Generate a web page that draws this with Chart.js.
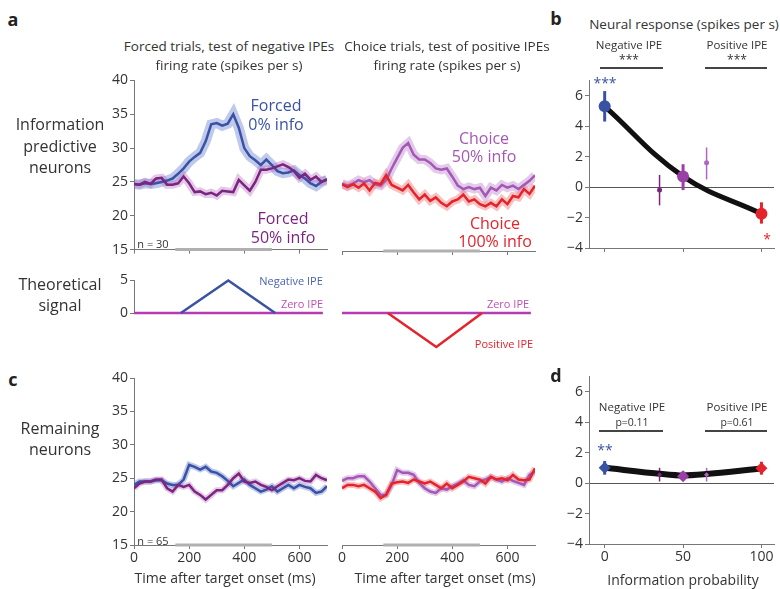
<!DOCTYPE html>
<html>
<head>
<meta charset="utf-8">
<script src="https://cdn.jsdelivr.net/npm/chart.js@4.4.1/dist/chart.umd.min.js"></script>
<style>
  body { margin: 0; background: #fff; }
  #fig { position: relative; width: 780px; height: 589px; overflow: hidden; font-family: "Open Sans", sans-serif; color: #333; }
  #fig canvas { position: absolute; }
  .t { position: absolute; white-space: nowrap; transform: translate(-50%, -50%); line-height: 1; z-index: 2; }
  .rule { position: absolute; height: 0; border-top: 2px solid #444; z-index: 2; }
</style>
</head>
<body>
<div id="fig"></div>
<script>
// ---- data ----
const timeMs = [0,20,40,60,80,100,120,140,160,180,200,220,240,260,280,300,320,340,360,380,400,420,440,460,480,500,520,540,560,580,600,620,640,660,680,700];
const timeTicks = [0, 200, 400, 600];
const rateTicks = [15, 20, 25, 30, 35, 40];
const stimMs = [150, 500];

// a: information predictive neurons (n = 30)
const aForced0  = [24.7,24.6,24.8,24.7,24.8,25.0,25.2,25.5,26.2,27.0,28.0,28.7,29.3,31.0,33.5,33.7,33.3,33.6,35.0,33.0,30.0,28.8,28.2,27.5,28.3,27.5,26.6,26.3,26.4,26.7,26.0,25.5,24.8,24.4,25.0,25.3];
const aForced50 = [24.7,24.6,25.0,24.7,25.5,25.6,24.6,24.6,24.8,25.8,24.8,23.5,23.6,23.2,23.4,23.0,23.7,23.6,23.5,25.3,24.5,23.7,25.0,26.8,26.8,27.0,27.3,27.6,27.2,26.6,25.6,26.2,25.3,25.8,25.0,25.4];
const aChoice50 = [24.8,24.5,24.8,25.3,25.0,25.3,24.7,24.5,25.3,27.0,28.5,30.0,30.7,29.0,28.3,28.3,27.8,27.0,26.8,27.0,25.8,24.5,24.0,24.3,24.0,24.2,23.0,24.2,23.8,24.6,24.2,24.5,24.0,24.6,25.2,26.0];
const aChoice100= [24.7,24.3,24.7,24.2,24.8,23.8,24.9,24.7,26.0,24.6,24.2,23.8,24.6,23.5,22.5,23.2,22.3,22.8,22.0,21.5,22.2,22.5,23.2,22.2,22.5,21.8,21.5,22.0,21.5,22.5,21.8,23.0,22.8,24.0,23.3,24.5];

// c: remaining neurons (n = 65)
const cForced0  = [24.0,24.5,24.5,24.5,24.7,24.7,24.2,24.0,24.0,24.8,27.0,26.7,26.3,26.7,26.0,25.8,25.3,24.6,23.8,24.3,24.8,24.0,23.5,23.0,23.3,23.8,23.0,23.5,24.0,23.5,24.0,23.7,23.5,22.8,23.0,23.8];
const cForced50 = [23.5,24.2,24.5,24.5,24.8,24.8,23.5,23.0,24.0,23.7,24.0,23.0,22.5,21.8,22.5,23.2,23.2,24.0,25.0,25.7,24.5,24.3,24.5,24.0,23.7,23.2,23.8,24.3,24.8,24.7,25.0,24.6,24.5,25.5,25.0,24.7];
const cChoice50 = [24.6,25.0,25.0,25.3,25.3,24.5,23.5,22.5,22.5,24.0,26.2,25.8,25.8,25.5,24.3,23.5,23.0,22.8,23.5,23.3,23.8,24.2,24.7,24.0,23.8,24.5,24.8,25.2,24.8,24.5,25.0,24.6,24.3,24.0,25.5,26.0];
const cChoice100= [23.5,24.0,24.0,23.8,24.0,23.5,23.0,22.0,22.5,24.2,24.4,24.5,24.3,24.8,24.5,24.2,24.5,24.0,23.5,24.2,23.5,24.0,24.5,25.2,25.0,24.8,24.2,25.2,24.8,25.0,24.7,25.5,24.8,24.7,24.8,26.5];

// theoretical signal
const zeroMs = [0, 685];
const zeroIpe = [0, 0];
const negMs = [170, 342, 512];
const negIpe = [0, 5, 0];
const posMs = [166, 342, 508];
const posIpe = [0, -5, 0];

// b / d: neural response vs information probability
const probX = [0, 35, 50, 65, 100];
const probTicks = [0, 50, 100];
const respTicks = [-4, -2, 0, 2, 4, 6];
const respB = [5.3, -0.2, 0.7, 1.6, -1.75];
const errLoB = [4.3, -1.2, -0.2, 0.5, -2.4];
const errHiB = [6.3, 0.8, 1.5, 2.6, -1.0];
const fitX = [0, 50, 100];
const fitB = [5.3, 0.7, -1.75];
const respD = [1.0, 0.55, 0.45, 0.55, 0.97];
const errLoD = [0.55, 0.1, 0.2, 0.1, 0.55];
const errHiD = [1.45, 1.0, 0.75, 1.0, 1.4];
const fitD = [1.0, 0.5, 0.95];

// ---- colours ----
const BLUE = "#3a52a4", BLUE_BAND = "rgba(95,120,205,0.4)";
const PURPLE = "#7b2580", PURPLE_BAND = "rgba(175,100,185,0.35)";
const LILAC = "#a458b4", LILAC_BAND = "rgba(200,150,215,0.5)";
const RED = "#e5232b", RED_BAND = "rgba(240,120,120,0.45)";
const MAGENTA = "#b53cb5";
const AXIS = "#777";
const pointColors = [BLUE, PURPLE, "#9b3fa8", "#b066c0", RED];

Chart.defaults.font.family = '"Open Sans", sans-serif';
Chart.defaults.color = "#333";
Chart.defaults.animation = false;
Chart.defaults.responsive = false;
Chart.defaults.events = [];
Chart.defaults.plugins.legend.display = false;
Chart.defaults.plugins.tooltip.enabled = false;

const fig = document.getElementById("fig");

function makeCanvas(x, y, w, h) {
  const c = document.createElement("canvas");
  c.width = w; c.height = h;
  c.style.left = x + "px"; c.style.top = y + "px";
  fig.appendChild(c);
  return c.getContext("2d");
}

function addText(t, x, y, size, color, weight) {
  const d = document.createElement("div");
  d.className = "t";
  d.textContent = t;
  d.style.left = x + "px";
  d.style.top = y + "px";
  d.style.fontSize = size + "px";
  if (color) d.style.color = color;
  if (weight) d.style.fontWeight = weight;
  fig.appendChild(d);
}

function addRule(x1, x2, y) {
  const d = document.createElement("div");
  d.className = "rule";
  d.style.left = x1 + "px";
  d.style.top = y + "px";
  d.style.width = (x2 - x1) + "px";
  fig.appendChild(d);
}

const errorBars = {
  id: "errorBars",
  beforeDatasetsDraw(chart) {
    const { ctx, scales: { x, y } } = chart;
    chart.data.datasets.forEach(ds => {
      if (!ds.errLo) return;
      ds.data.forEach((p, i) => {
        const px = x.getPixelForValue(p.x);
        ctx.save();
        ctx.strokeStyle = ds.pointBackgroundColor[i];
        ctx.lineWidth = ds.errWidth[i];
        ctx.beginPath();
        ctx.moveTo(px, y.getPixelForValue(ds.errLo[i]));
        ctx.lineTo(px, y.getPixelForValue(ds.errHi[i]));
        ctx.stroke();
        ctx.restore();
      });
    });
  }
};

function pts(xs, ys) {
  return xs.map((v, i) => ({ x: v, y: ys[i] }));
}

function trace(values, color, width, order) {
  return { data: pts(timeMs, values), borderColor: color, borderWidth: width, pointRadius: 0, tension: 0, order };
}

function stimBar() {
  return { data: pts(stimMs, [15, 15]), borderColor: "#b0b0b0", borderWidth: 3, pointRadius: 0, clip: false, order: 0 };
}

function timeX(showLabels, xh) {
  return {
    type: "linear", min: 0, max: 700,
    afterBuildTicks: s => { s.ticks = timeTicks.map(v => ({ value: v })); },
    afterFit: s => { s.height = xh; },
    border: { color: AXIS, width: 1 },
    grid: { drawOnChartArea: false, tickLength: 4, tickColor: AXIS },
    ticks: { display: showLabels, font: { size: 14 }, padding: 1, maxRotation: 0 }
  };
}

function rateY(show) {
  return {
    display: show, min: 15, max: 40,
    afterBuildTicks: s => { s.ticks = rateTicks.map(v => ({ value: v })); },
    afterFit: s => { s.width = show ? 34 : 0; },
    border: { color: AXIS, width: 1 },
    grid: { drawOnChartArea: false, tickLength: 4, tickColor: AXIS },
    ticks: { font: { size: 14 }, padding: 2 }
  };
}

function timePanel(x, y, w, h, pad, showY, showXLabels, xh, datasets) {
  new Chart(makeCanvas(x, y, w, h), {
    type: "line",
    data: { datasets: datasets.concat([stimBar()]) },
    options: {
      layout: { padding: pad },
      scales: { x: timeX(showXLabels, xh), y: rateY(showY) }
    }
  });
}

// panel a
timePanel(100, 70, 235, 190, { top: 9, right: 8, left: 0, bottom: 0 }, true, false, 9, [
  trace(aForced50, PURPLE, 2.5, 1), trace(aForced0, BLUE, 2.5, 2),
  trace(aForced50, PURPLE_BAND, 8, 3), trace(aForced0, BLUE_BAND, 10, 4)
]);
timePanel(335, 70, 210, 190, { top: 9, right: 10, left: 7, bottom: 0 }, false, false, 9, [
  trace(aChoice100, RED, 2.5, 1), trace(aChoice50, LILAC, 2.5, 2),
  trace(aChoice100, RED_BAND, 8, 3), trace(aChoice50, LILAC_BAND, 9, 4)
]);

// panel c
timePanel(100, 366, 235, 223, { top: 12, right: 8, left: 0, bottom: 0 }, true, true, 44, [
  trace(cForced50, PURPLE, 2.5, 1), trace(cForced0, BLUE, 2.5, 2),
  trace(cForced50, PURPLE_BAND, 6, 3), trace(cForced0, BLUE_BAND, 6, 4)
]);
timePanel(335, 366, 210, 223, { top: 12, right: 10, left: 7, bottom: 0 }, false, true, 44, [
  trace(cChoice100, RED, 2.5, 1), trace(cChoice50, LILAC, 2.5, 2),
  trace(cChoice100, RED_BAND, 6, 3), trace(cChoice50, LILAC_BAND, 6, 4)
]);

// theoretical signal
function theoryPanel(x, y, w, h, pad, showY, yMin, shapeMs, shapeVals, color) {
  new Chart(makeCanvas(x, y, w, h), {
    type: "line",
    data: { datasets: [
      { data: pts(shapeMs, shapeVals), borderColor: color, borderWidth: 2.5, pointRadius: 0, clip: false, order: 1 },
      { data: pts(zeroMs, zeroIpe), borderColor: MAGENTA, borderWidth: 2.5, pointRadius: 0, clip: false, order: 2 }
    ] },
    options: {
      layout: { padding: pad },
      scales: {
        x: { type: "linear", min: 0, max: 700, display: false },
        y: {
          display: showY, min: yMin, max: 5,
          afterBuildTicks: s => { s.ticks = [0, 5].map(v => ({ value: v })); },
          afterFit: s => { s.width = showY ? 34 : 0; },
          border: { color: AXIS, width: 1 },
          grid: { drawOnChartArea: false, tickLength: 4, tickColor: AXIS },
          ticks: { font: { size: 14 }, padding: 2 }
        }
      }
    }
  });
}
theoryPanel(100, 270, 235, 55, { top: 9, right: 8, left: 0, bottom: 12 }, true, 0, negMs, negIpe, BLUE);
theoryPanel(335, 270, 210, 85, { top: 9, right: 10, left: 7, bottom: 8 }, false, -5, posMs, posIpe, RED);

// panels b and d
function probPanel(x, y, w, h, xh, showXLabels, resp, lo, hi, fit, style, tension, fitWidth) {
  new Chart(makeCanvas(x, y, w, h), {
    type: "line",
    data: { datasets: [
      {
        data: pts(probX, resp), showLine: false, order: 1,
        pointStyle: style,
        pointRadius: [6, 2.5, 6, 2.5, 6],
        pointBackgroundColor: pointColors, pointBorderColor: pointColors, pointBorderWidth: 0,
        errLo: lo, errHi: hi, errWidth: [3, 1.5, 3, 1.5, 3]
      },
      { data: pts(fitX, fit), borderColor: "#111", borderWidth: fitWidth, pointRadius: 0, tension, order: 2 }
    ] },
    options: {
      layout: { padding: { top: 9, right: 0, left: 0, bottom: 0 } },
      scales: {
        x: {
          type: "linear", min: -10, max: 108,
          afterBuildTicks: s => { s.ticks = probTicks.map(v => ({ value: v })); },
          afterFit: s => { s.height = xh; },
          border: { color: AXIS, width: 1 },
          grid: { drawOnChartArea: false, tickLength: 4, tickColor: AXIS },
          ticks: { display: showXLabels, font: { size: 14 }, padding: 1, maxRotation: 0 }
        },
        y: {
          min: -4, max: 7,
          afterBuildTicks: s => { s.ticks = respTicks.map(v => ({ value: v })); },
          afterFit: s => { s.width = 29; },
          border: { color: AXIS, width: 1 },
          grid: { color: c => c.tick && c.tick.value === 0 ? "#555" : "rgba(0,0,0,0)", tickColor: AXIS, tickLength: 4 },
          ticks: { font: { size: 14 }, padding: 2, callback: v => (v < 0 ? "\u2212" + Math.abs(v) : v) }
        }
      }
    },
    plugins: [errorBars]
  });
}
probPanel(560, 70, 220, 190, 12, false, respB, errLoB, errHiB, fitB, "circle", 0.4, 5);
probPanel(560, 366, 220, 223, 45, true, respD, errLoD, errHiD, fitD, "rectRot", 0.2, 6);

// ---- text ----
addText("a", 13, 19, 18, "#222", 700);
addText("b", 556, 18, 18, "#222", 700);
addText("c", 13, 379, 18, "#222", 700);
addText("d", 556, 375, 18, "#222", 700);

addText("Information", 60, 124, 16);
addText("predictive", 60, 146, 16);
addText("neurons", 60, 167, 16);
addText("Theoretical", 60, 284, 16);
addText("signal", 60, 305, 16);
addText("Remaining", 60, 428, 16);
addText("neurons", 60, 449, 16);

addText("Forced trials, test of negative IPEs", 229, 47, 13.5);
addText("firing rate (spikes per s)", 229, 66, 13.5);
addText("Choice trials, test of positive IPEs", 447, 47, 13.5);
addText("firing rate (spikes per s)", 447, 66, 13.5);

addText("Forced", 276, 105, 16, BLUE);
addText("0% info", 276, 124, 16, BLUE);
addText("Forced", 283, 218, 16, PURPLE);
addText("50% info", 283, 237, 16, PURPLE);
addText("Choice", 484, 138, 16, LILAC);
addText("50% info", 484, 156, 16, LILAC);
addText("Choice", 495, 223, 16, RED);
addText("100% info", 495, 241, 16, RED);
addText("n = 30", 153, 243, 11);
addText("n = 65", 153, 540, 11);

addText("Negative IPE", 291, 280, 11, "#4a64b0");
addText("Zero IPE", 302, 303, 11, "#c050b0");
addText("Zero IPE", 508, 303, 11, "#c050b0");
addText("Positive IPE", 504, 343, 11, RED);

addText("Neural response (spikes per s)", 684, 25, 13.5);
addText("Negative IPE", 629, 45, 11.5);
addText("***", 629, 60, 12);
addRule(600, 663, 67);
addText("Positive IPE", 737, 45, 11.5);
addText("***", 737, 60, 12);
addRule(705, 767, 67);
addText("***", 605, 83, 14, BLUE);
addText("*", 767, 239, 14, RED);

addText("Negative IPE", 632, 407, 11.5);
addText("p=0.11", 632, 422, 10.5);
addRule(599, 663, 430);
addText("Positive IPE", 737, 407, 11.5);
addText("p=0.61", 737, 422, 10.5);
addRule(705, 767, 430);
addText("**", 605, 450, 14, BLUE);

addText("Time after target onset (ms)", 225, 578, 14);
addText("Time after target onset (ms)", 445, 578, 14);
addText("Information probability", 683, 580, 14);
</script>
</body>
</html>
